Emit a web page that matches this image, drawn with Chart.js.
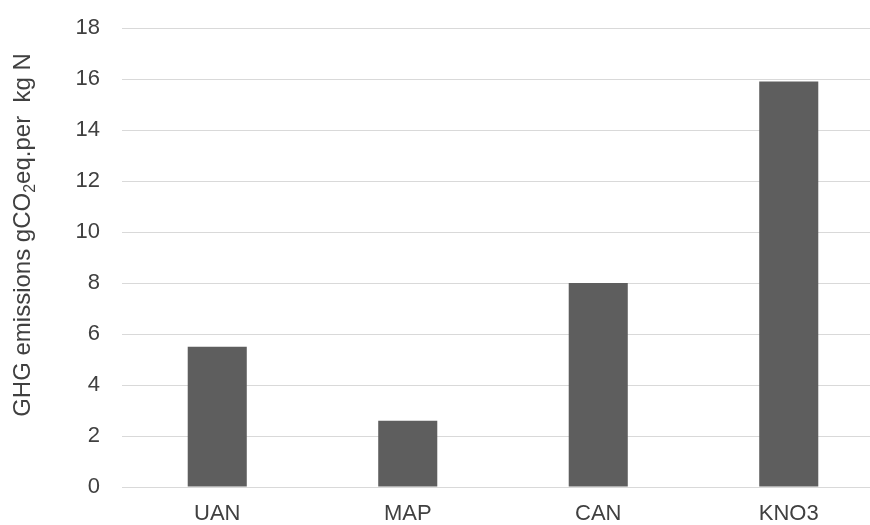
<!doctype html>
<html>
<head>
  <meta charset="utf-8" />
  <title>GHG emissions per kg N</title>
  <style>
    html, body { margin: 0; padding: 0; background: #fff; overflow: hidden; }
    #wrap { position: absolute; left: 0; top: 0; width: 884px; height: 525px; }
  </style>
  <script src="https://cdn.jsdelivr.net/npm/chart.js"></script>
</head>
<body>
  <div id="wrap"><canvas id="chart"></canvas></div>
  <script>
    const categories = ['UAN', 'MAP', 'CAN', 'KNO3'];
    const emissions = [5.5, 2.6, 8.0, 15.9];
    const yTicks = [0, 2, 4, 6, 8, 10, 12, 14, 16, 18];
    // y title split so the 2 can be drawn as a subscript
    const titleParts = [
      { text: 'GHG emissions gCO', sub: false },
      { text: '2', sub: true },
      { text: 'eq.per  kg N', sub: false },
    ];

    const FONT = "'Liberation Sans', Arial, sans-serif";
    const TEXT = '#404040';
    const GRID = '#d9d9d9';

    const yTitle = {
      id: 'yTitle',
      afterDraw(chart) {
        const ctx = chart.ctx;
        const big = '24px ' + FONT, small = '16px ' + FONT;
        let total = 0;
        for (const p of titleParts) {
          ctx.font = p.sub ? small : big;
          total += ctx.measureText(p.text).width;
        }
        ctx.save();
        ctx.translate(30, 235);
        ctx.rotate(-Math.PI / 2);
        ctx.fillStyle = TEXT;
        ctx.textBaseline = 'alphabetic';
        ctx.textAlign = 'left';
        let x = -total / 2;
        for (const p of titleParts) {
          ctx.font = p.sub ? small : big;
          ctx.fillText(p.text, x, p.sub ? 5 : 0);
          x += ctx.measureText(p.text).width;
        }
        ctx.restore();
      }
    };

    new Chart(document.getElementById('chart'), {
      type: 'bar',
      data: {
        labels: categories,
        datasets: [{
          data: emissions,
          backgroundColor: '#5e5e5e',
          borderWidth: 0,
          categoryPercentage: 0.31,
          barPercentage: 1,
        }]
      },
      options: {
        responsive: true,
        maintainAspectRatio: false,
        animation: false,
        layout: { padding: { top: 28, left: 0, right: 0, bottom: 0 } },
        plugins: { legend: { display: false }, tooltip: { enabled: false } },
        scales: {
          x: {
            grid: { display: false },
            border: { color: GRID, width: 1 },
            ticks: { color: TEXT, font: { family: FONT, size: 22 }, padding: 6 },
            afterFit(s) { s.height = 38; },
          },
          y: {
            min: 0,
            max: 18,
            afterBuildTicks(s) { s.ticks = yTicks.map(v => ({ value: v })); },
            grid: { color: GRID, lineWidth: 1, drawTicks: false },
            border: { display: false },
            ticks: { color: TEXT, font: { family: FONT, size: 22 }, padding: 22 },
            afterFit(s) { s.width = 122; s.paddingTop = 0; s.paddingBottom = 0; },
          }
        }
      },
      plugins: [yTitle]
    });
  </script>
</body>
</html>
